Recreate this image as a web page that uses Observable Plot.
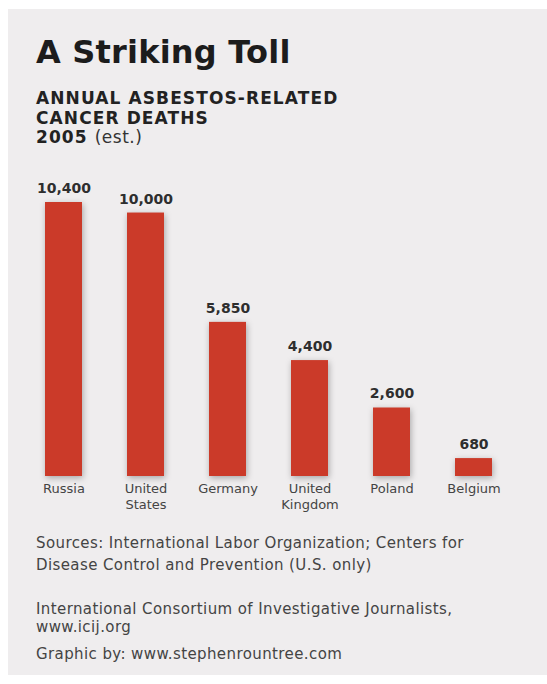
<!DOCTYPE html>
<html>
<head>
<meta charset="utf-8">
<script src="https://cdn.jsdelivr.net/npm/d3@7"></script>
<script src="https://cdn.jsdelivr.net/npm/@observablehq/plot@0.6"></script>
<style>
  html, body { margin: 0; padding: 0; background: #ffffff; width: 547px; height: 684px; overflow: hidden; }
  #panel { position: absolute; left: 8px; top: 9px; width: 539px; height: 666px; background: #efedee; }
  .t { position: absolute; font-family: "DejaVu Sans", sans-serif; white-space: nowrap; }
  #title { left: 36px; top: 33px; font-size: 32px; font-weight: bold; color: #1c1c1c; letter-spacing: 0.2px; }
  #sub { left: 36px; top: 89px; font-size: 17px; font-weight: bold; color: #222; line-height: 19.5px; letter-spacing: 1.1px; }
  #sub span { font-weight: normal; color: #333; letter-spacing: 0.5px; }
  .foot { left: 36px; font-size: 15px; color: #444; letter-spacing: 0.4px; }
  #chart { position: absolute; left: 0; top: 170px; }
  #chart svg { overflow: visible; }
  .bars rect { filter: drop-shadow(1px 2px 3px rgba(0,0,0,0.3)); }
</style>
</head>
<body>
<div id="panel"></div>
<div class="t" id="title">A Striking Toll</div>
<div class="t" id="sub">ANNUAL ASBESTOS-RELATED<br>CANCER DEATHS<br>2005 <span>(est.)</span></div>
<div id="chart"></div>
<div class="t foot" style="top:532px; line-height:22px;">Sources: International Labor Organization; Centers for<br>Disease Control and Prevention (U.S. only)</div>
<div class="t foot" style="top:600px; line-height:18px;">International Consortium of Investigative Journalists,<br>www.icij.org</div>
<div class="t foot" style="top:645px;">Graphic by: www.stephenrountree.com</div>
<script>
const countries = ["Russia", "United States", "Germany", "United Kingdom", "Poland", "Belgium"];
const countryLabels = ["Russia", "United\nStates", "Germany", "United\nKingdom", "Poland", "Belgium"];
const deaths = [10400, 10000, 5850, 4400, 2600, 680];

const data = countries.map((c, i) => ({country: c, label: countryLabels[i], deaths: deaths[i]}));
const labelOf = new Map(countries.map((c, i) => [c, countryLabels[i]]));

const chart = Plot.plot({
  width: 547,
  height: 351,
  marginTop: 32,
  marginBottom: 45,
  marginLeft: 22,
  marginRight: 32,
  style: {background: "transparent", fontFamily: "DejaVu Sans, sans-serif"},
  x: {domain: countries, paddingInner: 0.55, paddingOuter: 0.275, label: null},
  y: {domain: [0, 10400], axis: null},
  marks: [
    Plot.barY(data, {x: "country", y: "deaths", fill: "#cb3a29", className: "bars"}),
    Plot.text(data, {x: "country", y: "deaths", text: d => d3.format(",")(d.deaths), dy: -14, fontSize: 14, fontWeight: 600, fill: "#2e2e2e"}),
    Plot.axisX({tickSize: 0, tickPadding: 5, fontSize: 13, lineHeight: 1.22, tickFormat: d => labelOf.get(d), fill: "#444", label: null})
  ]
});
document.getElementById("chart").appendChild(chart);
</script>
</body>
</html>
